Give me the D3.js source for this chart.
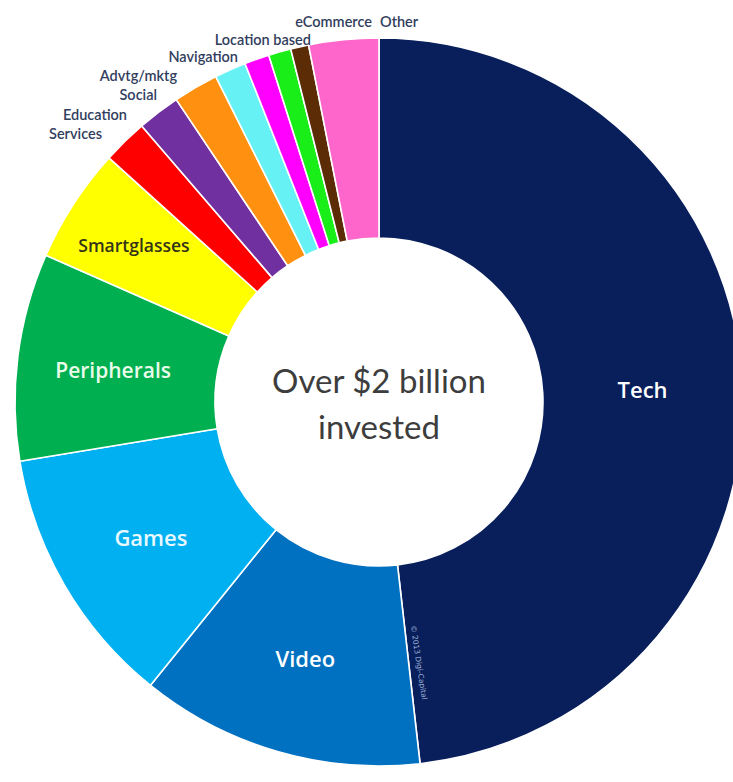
<!DOCTYPE html>
<html>
<head>
<meta charset="utf-8">
<script src="https://cdn.jsdelivr.net/npm/d3@7"></script>
<style>
  html, body { margin: 0; padding: 0; background: #ffffff; }
  svg { display: block; }
</style>
</head>
<body>
<div id="chart"></div>
<script>
// Share of AR/VR investment by sector (percent of total)
const categories = ["Tech", "Video", "Games", "Peripherals", "Smartglasses",
  "Services", "Education", "Social", "Advtg/mktg", "Navigation",
  "Location based", "eCommerce", "Other"];
const shares = [48.2, 12.6, 11.6, 9.2, 5.1, 2.0, 1.9, 2.0, 1.4, 1.1, 1.0, 0.8, 3.1];
const sliceColors = ["#081f5c", "#0070c0", "#00b0f0", "#00b050", "#ffff00",
  "#ff0000", "#7030a0", "#ff9010", "#66f2f5", "#ff00ff",
  "#19ee19", "#5c2c06", "#ff66cc"];
const centerLines = ["Over $2 billion", "invested"];
const creditText = "\u00a9 2013 Digi-Capital";

const width = 733, height = 782;
const cx = 379, cy = 402;
const innerR = 164, outerR = 364;

const svg = d3.select("#chart").append("svg")
  .attr("width", width).attr("height", height)
  .attr("viewBox", [0, 0, width, height]);

svg.append("rect").attr("width", width).attr("height", height).attr("fill", "#ffffff");

const color = d3.scaleOrdinal().domain(categories).range(sliceColors);

const rows = categories.map((c, i) => ({ category: c, value: shares[i] }));
const pie = d3.pie().sort(null).value(d => d.value).startAngle(0).endAngle(2 * Math.PI);
const arcs = pie(rows);

const arc = d3.arc().innerRadius(innerR).outerRadius(outerR);

const g = svg.append("g").attr("transform", `translate(${cx},${cy})`);

g.selectAll("path.slice")
  .data(arcs)
  .join("path")
  .attr("class", "slice")
  .attr("d", arc)
  .attr("fill", d => color(d.data.category))
  .attr("stroke", "#ffffff")
  .attr("stroke-width", 1.6)
  .attr("stroke-linejoin", "round");

// Labels inside the wide slices
const insideStyle = {
  "Tech":         { fill: "#ffffff", size: 22, r: 264 },
  "Video":        { fill: "#ffffff", size: 22, r: 264 },
  "Games":        { fill: "#e8f8ff", size: 22, r: 264 },
  "Peripherals":  { fill: "#eafbea", size: 21, r: 268 },
  "Smartglasses": { fill: "#33331a", size: 17.5, r: 292 }
};
const polar = (angle, r) => [Math.sin(angle) * r, -Math.cos(angle) * r];

g.selectAll("text.inside")
  .data(arcs.filter(d => insideStyle[d.data.category]))
  .join("text")
  .attr("class", "inside")
  .attr("transform", d => {
    const s = insideStyle[d.data.category];
    const [x, y] = polar((d.startAngle + d.endAngle) / 2, s.r);
    return `translate(${x},${y + 2})`;
  })
  .attr("text-anchor", "middle")
  .attr("dominant-baseline", "central")
  .attr("font-family", "'Open Sans', Lato, sans-serif")
  .attr("font-weight", 600)
  .attr("font-size", d => insideStyle[d.data.category].size)
  .attr("fill", d => insideStyle[d.data.category].fill)
  .text(d => d.data.category);

// Stepped labels above the thin slices
const outsideLayout = {
  "Services":       { x: 102, y: 133, anchor: "end" },
  "Education":      { x: 127, y: 114, anchor: "end" },
  "Social":         { x: 157, y: 94,  anchor: "end" },
  "Advtg/mktg":     { x: 177, y: 75,  anchor: "end" },
  "Navigation":     { x: 238, y: 56,  anchor: "end" },
  "Location based": { x: 311, y: 39,  anchor: "end" },
  "eCommerce":      { x: 372, y: 21,  anchor: "end" },
  "Other":          { x: 380, y: 21,  anchor: "start" }
};

svg.selectAll("text.outside")
  .data(arcs.filter(d => outsideLayout[d.data.category]))
  .join("text")
  .attr("class", "outside")
  .attr("x", d => outsideLayout[d.data.category].x)
  .attr("y", d => outsideLayout[d.data.category].y)
  .attr("text-anchor", d => outsideLayout[d.data.category].anchor)
  .attr("dominant-baseline", "central")
  .attr("font-family", "Lato, 'Open Sans', sans-serif")
  .attr("font-weight", 600)
  .attr("font-size", 14.5)
  .attr("fill", "#323e5e")
  .text(d => d.data.category);

// Centre caption
g.selectAll("text.center")
  .data(centerLines)
  .join("text")
  .attr("class", "center")
  .attr("x", 0)
  .attr("y", (d, i) => -22 + i * 46)
  .attr("text-anchor", "middle")
  .attr("dominant-baseline", "central")
  .attr("font-family", "Lato, 'Open Sans', sans-serif")
  .attr("font-size", 33)
  .attr("fill", "#3d3d3d")
  .text(d => d);

// Credit line running along the Tech / Video boundary
const techArc = arcs[0];
const creditAngle = techArc.endAngle - 2.2 * Math.PI / 180;
const [tx, ty] = polar(creditAngle, 226);
g.append("text")
  .attr("transform", `translate(${tx},${ty}) rotate(${creditAngle * 180 / Math.PI - 90})`)
  .attr("dominant-baseline", "central")
  .attr("font-family", "'DejaVu Sans', sans-serif")
  .attr("font-size", 7.5)
  .attr("fill", "#9fb2d6")
  .text(creditText);
</script>
</body>
</html>
